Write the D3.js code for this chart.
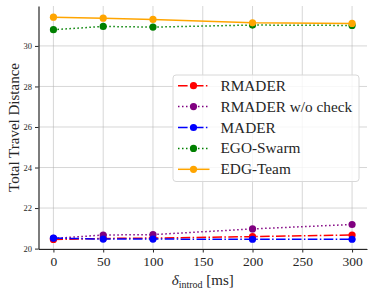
<!DOCTYPE html>
<html>
<head>
<meta charset="utf-8">
<script src="https://cdn.jsdelivr.net/npm/d3@7"></script>
<style>
  body { margin: 0; background: #fff; }
  svg text { font-family: "Liberation Serif", "DejaVu Serif", serif; }
</style>
</head>
<body>
<div id="chart"></div>
<script>
// delay values (ms) and total travel distance per method
const delays = [0, 50, 100, 200, 300];
const rmader = [20.45, 20.50, 20.52, 20.59, 20.67];
const rmaderNoCheck = [20.50, 20.67, 20.69, 20.97, 21.19];
const mader = [20.52, 20.47, 20.47, 20.46, 20.46];
const egoSwarm = [30.80, 30.96, 30.93, 31.03, 31.01];
const edgTeam = [31.42, 31.37, 31.31, 31.14, 31.11];

const xTicks = [0, 50, 100, 150, 200, 250, 300];
const yTicks = [20, 22, 24, 26, 28, 30];

const series = [
  { name: "RMADER", values: rmader, color: "red", dash: "9.6,2.4,1.5,2.4" },
  { name: "RMADER w/o check", values: rmaderNoCheck, color: "purple", dash: "1.5,2.5" },
  { name: "MADER", values: mader, color: "blue", dash: "9.6,2.4,1.5,2.4" },
  { name: "EGO-Swarm", values: egoSwarm, color: "green", dash: "1.5,2.5" },
  { name: "EDG-Team", values: edgTeam, color: "orange", dash: null }
];

const W = 374, H = 295;
const pL = 38.5, pR = 367, pT = 6, pB = 249;

const svg = d3.select("#chart").append("svg")
  .attr("width", W)
  .attr("height", H);

const x = d3.scaleLinear().domain([-15, 315]).range([pL, pR]);
const y = d3.scaleLinear().domain([19.98, 31.97]).range([pB, pT]);

// grid
svg.append("g")
  .selectAll("line")
  .data(xTicks)
  .enter().append("line")
  .attr("x1", d => x(d)).attr("x2", d => x(d))
  .attr("y1", pT).attr("y2", pB)
  .attr("stroke", "#b0b0b0").attr("stroke-opacity", 0.5).attr("stroke-width", 1);

svg.append("g")
  .selectAll("line")
  .data(yTicks)
  .enter().append("line")
  .attr("x1", pL).attr("x2", pR)
  .attr("y1", d => y(d)).attr("y2", d => y(d))
  .attr("stroke", "#b0b0b0").attr("stroke-opacity", 0.5).attr("stroke-width", 1);

// axes
const xAxis = svg.append("g")
  .attr("transform", `translate(0,${pB})`)
  .call(d3.axisBottom(x).tickValues(xTicks).tickSize(3.5).tickPadding(4).tickSizeOuter(0));
xAxis.select(".domain").attr("stroke", "#262626").attr("stroke-width", 1.2);
xAxis.selectAll(".tick line").attr("stroke", "#262626");
xAxis.selectAll("text").attr("font-size", 13.5).attr("fill", "#262626")
  .attr("font-family", "Liberation Serif");

const yAxis = svg.append("g")
  .attr("transform", `translate(${pL},0)`)
  .call(d3.axisLeft(y).tickValues(yTicks).tickSize(3.5).tickPadding(3).tickSizeOuter(0));
yAxis.select(".domain").attr("stroke", "#262626").attr("stroke-width", 1.2);
yAxis.selectAll(".tick line").attr("stroke", "#262626");
yAxis.selectAll("text").attr("font-size", 8.5).attr("fill", "#262626")
  .attr("font-family", "Liberation Serif");

// lines + markers
const line = d3.line()
  .x((d, i) => x(delays[i]))
  .y(d => y(d));

series.forEach(s => {
  svg.append("path")
    .datum(s.values)
    .attr("fill", "none")
    .attr("stroke", s.color)
    .attr("stroke-width", 1.5)
    .attr("stroke-dasharray", s.dash)
    .attr("d", line);
  svg.append("g")
    .selectAll("circle")
    .data(s.values)
    .enter().append("circle")
    .attr("cx", (d, i) => x(delays[i]))
    .attr("cy", d => y(d))
    .attr("r", 3.6)
    .attr("fill", s.color);
});

// legend
const lg = svg.append("g").attr("transform", "translate(173,75)");
lg.append("rect")
  .attr("width", 186).attr("height", 106.5)
  .attr("rx", 3)
  .attr("fill", "#fff").attr("fill-opacity", 0.8)
  .attr("stroke", "#d8d8d8").attr("stroke-width", 1);

series.forEach((s, i) => {
  const yy = 10.7 + i * 20.9;
  lg.append("line")
    .attr("x1", 5).attr("x2", 36.5)
    .attr("y1", yy).attr("y2", yy)
    .attr("stroke", s.color).attr("stroke-width", 1.5)
    .attr("stroke-dasharray", s.dash);
  lg.append("circle")
    .attr("cx", 20.5).attr("cy", yy).attr("r", 3.6).attr("fill", s.color);
  lg.append("text")
    .attr("x", 47.5).attr("y", yy + 5)
    .attr("font-size", 15.3)
    .attr("fill", "#262626")
    .text(s.name);
});

// axis labels
svg.append("text")
  .attr("transform", `translate(19,${(pT + pB) / 2}) rotate(-90)`)
  .attr("text-anchor", "middle")
  .attr("font-size", 15)
  .attr("fill", "#262626")
  .text("Total Travel Distance");

const xl = svg.append("text")
  .attr("x", (pL + pR) / 2)
  .attr("y", 285)
  .attr("text-anchor", "middle")
  .attr("font-size", 15)
  .attr("fill", "#262626");
xl.append("tspan").attr("font-style", "italic").text("δ");
xl.append("tspan").attr("font-size", 10).attr("dy", 3).text("introd");
xl.append("tspan").attr("dy", -3).text(" [ms]");
</script>
</body>
</html>
